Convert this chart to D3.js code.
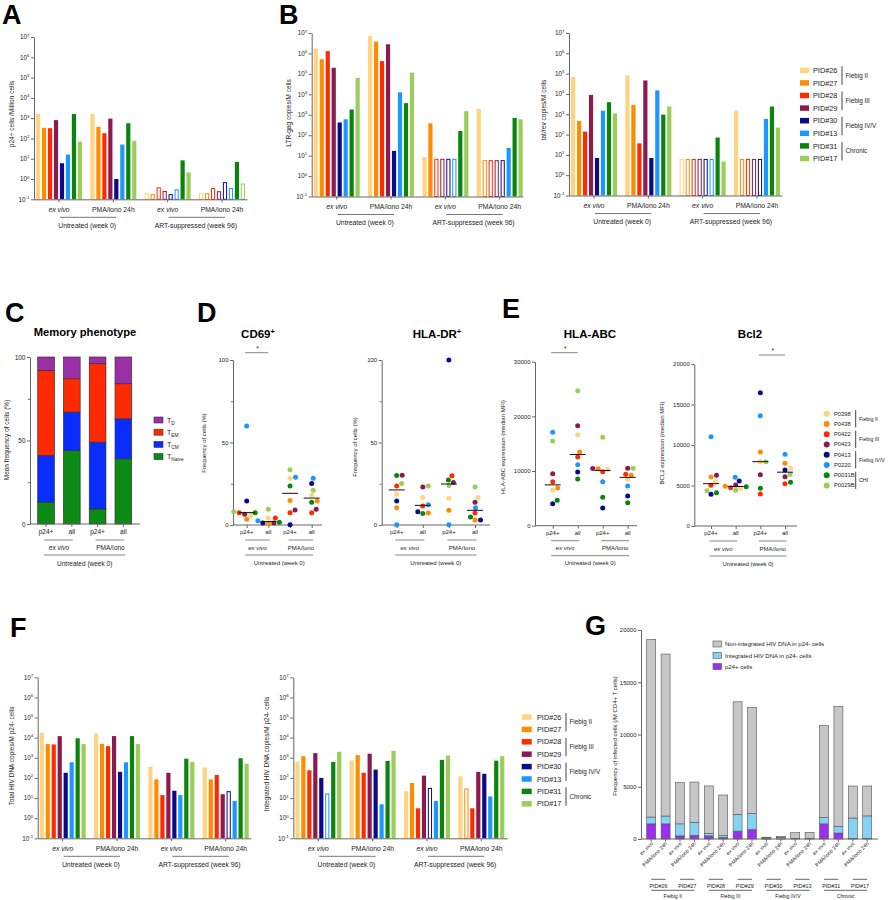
<!DOCTYPE html>
<html><head><meta charset="utf-8">
<script src="https://cdn.jsdelivr.net/npm/d3@7"></script>
<style>
body{margin:0;background:#fff;}
svg text{font-family:"Liberation Sans",Arial,Helvetica,sans-serif;fill:#222;}
</style></head><body>
<svg id="fig" width="890" height="900"></svg>
<script>
// ================= DATA =================
const patients = ["PID#26","PID#27","PID#28","PID#29","PID#30","PID#13","PID#31","PID#17"];
const patientColors = ["#ffd37f","#ff8c00","#ff2a00","#8b1a4f","#0b0b8a","#1e96ff","#0a840a","#9acd5a"];
const stageNames = ["Fiebig II","Fiebig III","Fiebig IV/V","Chronic"];
const conditionLabels = ["ex vivo","PMA/iono 24h","ex vivo","PMA/iono 24h"];
const cohortLabels = ["Untreated (week 0)","ART-suppressed (week 96)"];
const logTickValues = [1e-1,1e0,1e1,1e2,1e3,1e4,1e5,1e6,1e7];

// A: p24+ cells / Million cells  (groups x patients)
const p24Values = [
  [1600, 330, 320, 800, 6, 16, 1600, 70],
  [1600, 370, 180, 950, 1.0, 50, 560, 77],
  [0.2, 0.18, 0.39, 0.26, 0.18, 0.31, 8.3, 2.1],
  [0.2, 0.2, 0.36, 0.25, 0.7, 0.36, 7, 0.6]
];
const p24Open = [
  [0,0,0,0,0,0,0,0],[0,0,0,0,0,0,0,0],[1,1,1,1,1,1,0,0],[1,1,1,1,1,1,0,1]
];
// B: LTR-gag copies/M cells
const ltrValues = [
  [1.7e6, 5.2e5, 1.3e6, 2.0e5, 420, 600, 1800, 6.3e4],
  [7.0e6, 3.8e6, 4.2e5, 2.8e6, 17, 1.25e4, 3.7e3, 1.15e5],
  [8.5, 380, 7, 7, 7, 7, 160, 1500],
  [1900, 6, 6, 6, 6, 24, 700, 600]
];
const ltrOpen = [
  [0,0,0,0,0,0,0,0],[0,0,0,0,0,0,0,0],[0,0,1,1,1,1,0,0],[0,1,1,1,1,0,0,0]
];
// B: tat/rev copies/M cells
const tatValues = [
  [7e4, 470, 140, 9000, 7, 1500, 3900, 1100],
  [8.3e4, 2900, 37, 4.6e4, 7, 1.5e4, 960, 2400],
  [6.3, 6.3, 6.3, 6.3, 6.3, 6.3, 71, 4.7],
  [1500, 6.3, 6.3, 6.3, 6.3, 590, 2400, 220]
];
const tatOpen = [
  [0,0,0,0,0,0,0,0],[0,0,0,0,0,0,0,0],[1,1,1,1,1,1,0,0],[0,1,1,1,1,0,0,0]
];
// F: Total HIV DNA copies/M p24- cells
const totalDnaValues = [
  [1.7e4, 4800, 4600, 1.2e4, 180, 600, 9300, 4800],
  [1.6e4, 5000, 3800, 1.2e4, 200, 600, 1.2e4, 4800],
  [360, 85, 14, 180, 23, 14, 900, 630],
  [330, 85, 140, 15.5, 22, 7.2, 950, 510]
];
const totalDnaOpen = [
  [0,0,0,0,0,0,0,0],[0,0,0,0,0,0,0,0],[0,0,0,0,0,0,0,0],[0,0,0,0,1,0,0,0]
];
// F: Integrated HIV DNA copies/M p24- cells
const intDnaValues = [
  [660, 1200, 240, 1700, 100, 17, 620, 2000],
  [740, 1350, 180, 1600, 260, 4.9, 700, 2200],
  [22, 56, 3.1, 130, 32, 7.1, 790, 1300],
  [120, 30, 3.1, 200, 160, 12, 720, 1200]
];
const intDnaOpen = [
  [0,0,0,0,0,1,0,0],[0,0,0,0,0,0,0,0],[0,0,0,0,1,0,0,0],[0,1,0,0,0,0,0,0]
];

// C: Memory phenotype (mean %)
const memCategories = ["p24+","all","p24+","all"];
const memGroups = ["ex vivo","PMA/Iono"];
const memNaive = [13, 44, 9, 39];
const memCM = [28, 23, 40, 24];
const memEM = [51, 20, 47, 21];
const memD = [8, 13, 4, 16];
const memLegend = [["D","d"],["EM","em"],["CM","cm"],["Naive","naive"]];

// D/E: dot plots (columns: p24+ ex vivo, all ex vivo, p24+ PMA, all PMA; order of donors below)
const donors = ["P0398","P0438","P0422","P0423","P0413","P0220","P0031B","P0029B"];
const donorStages = ["Fiebig II","Fiebig III","Fiebig IV/V","CHI"];
const cd69 = [
  [5.7, 3.5, 7.5, 6.5, 14.6, 60, 7.5, 8],
  [4.3, 1.0, 4.3, 1.2, 1.2, 2.6, 1.6, 9.5],
  [28.3, 14.8, 7.5, 9.1, 0.2, 28.9, 23.6, 33.5],
  [18, 14.6, 7.5, 9.6, 25.2, 28.3, 13.8, 21.1]
];
const hladr = [
  [18.8, 10.5, 23.7, 30.2, 14.6, 0.2, 30, 25.1],
  [16.6, 7.3, 11.5, 23, 8.1, 12.3, 6.9, 23.7],
  [16.2, 8.9, 29.8, 25.7, 100, 0.2, 27.3, 24],
  [16.6, 3, 7.3, 13.8, 3, 10.5, 4.9, 23]
];
const hlaabc = [
  [6525, 6890, 8050, 9513, 4025, 17075, 4634, 15490],
  [16648, 13476, 12561, 18294, 9818, 11159, 8537, 24700],
  [10300, 10400, 9879, 10450, 3232, 8050, 5183, 16160],
  [8476, 9208, 9391, 10488, 5427, 7257, 4207, 10488]
];
const bcl2 = [
  [5432, 6049, 5020, 6255, 3909, 11030, 4115, 4362],
  [4650, 4897, 4732, 5061, 5555, 6008, 4856, 4403],
  [7942, 9135, 3950, 6337, 16460, 13620, 4650, 7942],
  [7119, 7736, 5226, 6090, 6913, 8847, 5391, 6378]
];

// G: Frequency of infected cells (/M CD4+ T cells)
const gPatients = ["PID#26","PID#27","PID#28","PID#29","PID#30","PID#13","PID#31","PID#17"];
const gConditions = ["ex vivo","PMA/iono 24h"];
const gP24 = [1450, 1450, 300, 350, 300, 150, 750, 900, 10, 5, 0, 0, 1450, 570, 60, 60];
const gIntegrated = [650, 750, 1150, 1250, 250, 170, 1600, 1550, 90, 160, 60, 60, 600, 650, 1950, 2150];
const gNonIntegrated = [17000, 15500, 3950, 3850, 4530, 3890, 10780, 10150, 70, 70, 550, 580, 8800, 11480, 3060, 2860];
const gLegend = ["Non-integrated HIV DNA in p24- cells","Integrated HIV DNA in p24- cells","p24+ cells"];

// ================= DRAWING =================
const svg = d3.select("#fig");
svg.append("rect").attr("width",890).attr("height",900).attr("fill","#fff");
const AX = "#666";

function label(g, x, y, s, size, o = {}) {
  const t = g.append("text").attr("x", x).attr("y", y).attr("font-size", size)
    .attr("text-anchor", o.anchor || "middle").text(s);
  if (o.italic) t.attr("font-style", "italic");
  if (o.bold) t.attr("font-weight", "bold");
  if (o.fill) t.style("fill", o.fill);
  return t;
}
function vlabel(g, x, y, s, size) {
  g.append("text").attr("transform", `translate(${x},${y}) rotate(-90)`)
    .attr("text-anchor", "middle").attr("dy", "0.35em").attr("font-size", size).text(s);
}
function hline(g, x1, x2, y, col = "#777", w = 1) {
  g.append("line").attr("x1", x1).attr("x2", x2).attr("y1", y).attr("y2", y).attr("stroke", col).attr("stroke-width", w);
}
function styleAxis(a) {
  a.attr("font-size", null).attr("font-family", null);
  a.select(".domain").attr("stroke", AX);
  a.selectAll(".tick line").attr("stroke", AX);
  a.selectAll(".tick text").style("fill", "#222");
}
function panelLetter(x, y, s) { label(svg, x, y, s, 27, {anchor: "start", bold: true, fill: "#000"}); }

// ---------- log bar chart ----------
function logBarChart(c) {
  const g = svg.append("g");
  const y = d3.scaleLog().domain([0.1, 1e7]).range([c.yBot, c.yTop]);
  const xg = d3.scaleBand().domain(d3.range(4)).range([c.x0 + 2, c.x0 + 211]).paddingInner(0.153);
  const xp = d3.scaleBand().domain(d3.range(8)).range([0, xg.bandwidth()]).paddingInner(0.3);
  c.values.forEach((grp, gi) => grp.forEach((v, pi) => {
    const x = xg(gi) + xp(pi), w = xp.bandwidth(), top = y(v);
    const r = g.append("rect");
    if (c.open[gi][pi]) {
      r.attr("x", x + 0.5).attr("y", top + 0.5).attr("width", w - 1).attr("height", Math.max(0, c.yBot - top - 0.5))
        .attr("fill", "#fff").attr("stroke", patientColors[pi]).attr("stroke-width", 1);
    } else {
      r.attr("x", x).attr("y", top).attr("width", w).attr("height", c.yBot - top).attr("fill", patientColors[pi]);
    }
  }));
  const ay = g.append("g").attr("transform", `translate(${c.x0},0)`)
    .call(d3.axisLeft(y).tickValues(logTickValues).tickSize(3).tickSizeOuter(0).tickFormat(""));
  styleAxis(ay);
  logTickValues.forEach(t => {
    const e = Math.round(Math.log10(t));
    const tx = g.append("text").attr("x", c.x0 - 4.5).attr("y", y(t) + 2.3).attr("text-anchor", "end").attr("font-size", 6.3);
    tx.append("tspan").text("10");
    tx.append("tspan").attr("dy", -2.8).attr("font-size", 4.4).text(e);
  });
  const xl = d3.scaleLinear().domain([0, 1]).range([c.x0, c.x0 + c.len]);
  const ax = g.append("g").attr("transform", `translate(0,${c.yBot})`).call(d3.axisBottom(xl).tickValues([]).tickSizeOuter(0));
  styleAxis(ax);
  const axt = g.append("g").attr("transform", `translate(0,${c.yBot})`).call(d3.axisBottom(xg).tickSize(3).tickSizeOuter(0).tickFormat(""));
  axt.select(".domain").remove();
  axt.selectAll(".tick line").attr("stroke", AX);
  const cen = gi => xg(gi) + xg.bandwidth() / 2;
  d3.range(4).forEach(gi => label(g, cen(gi), c.yBot + 12.5, conditionLabels[gi], 6.8, {italic: gi % 2 === 0}));
  [0, 1].forEach(k => {
    const c1 = cen(2 * k), c2 = cen(2 * k + 1);
    hline(g, c1 + 1, c2 + 3, c.yBot + 18);
    label(g, (c1 + c2) / 2 + 1, c.yBot + 28.5, cohortLabels[k], 6.8);
  });
  vlabel(g, c.ylx, c.yly, c.ylabel, 6.5);
}

function pidLegend(x, y0, step, sw, sh, tx, bx, font, sfont) {
  const g = svg.append("g");
  patients.forEach((p, i) => {
    g.append("rect").attr("x", x).attr("y", y0 + i * step - sh / 2).attr("width", sw).attr("height", sh).attr("fill", patientColors[i]);
    label(g, tx, y0 + i * step + font * 0.36, p, font, {anchor: "start"});
  });
  stageNames.forEach((s, k) => {
    const ya = y0 + 2 * k * step - 4, yb = y0 + (2 * k + 1) * step + 2;
    g.append("line").attr("x1", bx).attr("x2", bx).attr("y1", ya).attr("y2", yb).attr("stroke", "#444");
    label(g, bx + 3.5, (ya + yb) / 2 + sfont * 0.36, s, sfont, {anchor: "start"});
  });
}

// ---------- dot chart ----------
function swarm(vals, ys, r) {
  const idx = vals.map((v, i) => i).sort((a, b) => vals[a] - vals[b]);
  const placed = [], offs = new Array(vals.length), d = 2 * r + 0.3;
  for (const i of idx) {
    const yy = ys(vals[i]);
    let best = null;
    for (let k = 0; k < 60 && best === null; k++) {
      const cands = k === 0 ? [0] : [k * 0.5, -k * 0.5];
      for (const o of cands) {
        if (placed.every(p => Math.hypot(p.x - o, p.y - yy) >= d)) { best = o; break; }
      }
    }
    offs[i] = best; placed.push({x: best, y: yy});
  }
  return offs;
}
function titleSup(g, x, y, t, sup) {
  const tx = g.append("text").attr("x", x).attr("y", y).attr("text-anchor", "middle").attr("font-size", 11.5)
    .attr("font-weight", "bold").style("fill", "#000");
  tx.append("tspan").text(t);
  if (sup) tx.append("tspan").attr("dy", -4.5).attr("font-size", 7.5).text(sup);
}
function dotChart(c) {
  const g = svg.append("g");
  const y = d3.scaleLinear().domain([0, c.max]).range([c.yBot, c.yTop]);
  const xc = d3.scalePoint().domain(d3.range(4)).range([c.c1, c.c4]);
  const ay = g.append("g").attr("transform", `translate(${c.x0},0)`)
    .call(d3.axisLeft(y).tickValues(c.ticks).tickSize(3).tickPadding(1.5).tickSizeOuter(0).tickFormat(d3.format("d")));
  styleAxis(ay);
  ay.selectAll(".tick text").attr("font-size", 6);
  if (c.minor) {
    const am = g.append("g").attr("transform", `translate(${c.x0},0)`)
      .call(d3.axisLeft(y).tickValues(c.minor).tickSize(2).tickFormat(""));
    am.select(".domain").remove(); am.selectAll(".tick line").attr("stroke", AX);
  }
  hline(g, c.x0, c.xEnd, c.yBot, AX);
  const axt = g.append("g").attr("transform", `translate(0,${c.yBot})`).call(d3.axisBottom(xc).tickSize(3).tickSizeOuter(0).tickFormat(""));
  axt.select(".domain").remove(); axt.selectAll(".tick line").attr("stroke", AX);
  d3.range(4).forEach(ci => label(g, xc(ci), c.yBot + 9, memCategories[ci], 6));
  [0, 1].forEach(k => {
    const a = xc(2 * k), b = xc(2 * k + 1);
    hline(g, a - 1.5, b + 1.5, c.yBot + 15, "#888");
    label(g, (a + b) / 2, c.yBot + 24.5, memGroups[k], 6, {italic: k === 0});
  });
  hline(g, xc(0) - 1.5, xc(3) + 1.5, c.yBot + 30, "#888");
  label(g, (xc(0) + xc(3)) / 2, c.yBot + 39.5, "Untreated (week 0)", 6);
  const r = 2.5;
  c.data.forEach((col, ci) => {
    const offs = swarm(col, y, r);
    col.forEach((v, pi) => g.append("circle").attr("cx", xc(ci) + offs[pi]).attr("cy", y(v)).attr("r", r).attr("fill", patientColors[pi]));
    const m = d3.median(col);
    hline(g, xc(ci) - 8, xc(ci) + 8, y(m), "#111", 1);
  });
  titleSup(g, c.tx, 338, c.title, c.sup);
  vlabel(g, c.ylx, c.yly, c.ylabel, 6);
  if (c.sig) {
    const a = xc(c.sig[0]), b = xc(c.sig[1]);
    hline(g, a - 1.5, b, c.sigY, "#888");
    label(g, (a + b) / 2, c.sigY - 2, "*", 6.5);
  }
}

// ================= PANELS =================
panelLetter(2, 24, "A");
panelLetter(279, 24, "B");
panelLetter(5, 322, "C");
panelLetter(197, 322, "D");
panelLetter(502, 318, "E");
panelLetter(10, 637, "F");
panelLetter(585, 635, "G");

logBarChart({values: p24Values, open: p24Open, x0: 34, len: 213, yTop: 37, yBot: 199.3,
  ylabel: "p24+ cells /Million cells", ylx: 11.5, yly: 114});
logBarChart({values: ltrValues, open: ltrOpen, x0: 311.7, len: 211, yTop: 33, yBot: 196.5,
  ylabel: "LTR-gag copies/M cells", ylx: 288.5, yly: 113});
logBarChart({values: tatValues, open: tatOpen, x0: 569, len: 213, yTop: 33, yBot: 195.5,
  ylabel: "tat/rev copies/M cells", ylx: 543.5, yly: 110});
pidLegend(800, 70.3, 12.6, 9, 5.5, 813, 842, 7.3, 6.3);

logBarChart({values: totalDnaValues, open: totalDnaOpen, x0: 37.7, len: 213, yTop: 677.3, yBot: 838.3,
  ylabel: "Total HIV DNA copies/M p24- cells", ylx: 12, yly: 756});
logBarChart({values: intDnaValues, open: intDnaOpen, x0: 293.3, len: 214, yTop: 677.3, yBot: 838.3,
  ylabel: "Integrated HIV DNA copies/M p24-  cells", ylx: 267, yly: 754});
pidLegend(521.7, 717, 12.4, 10, 5.5, 537, 566, 7.3, 6.3);

// ---- C ----
(function () {
  const g = svg.append("g");
  const x0 = 30, yb = 524;
  const y = d3.scaleLinear().domain([0, 100]).range([yb, 357]);
  const x = d3.scaleBand().domain(d3.range(4)).range([37.7, 131.7]).paddingInner(0.353);
  const rows = memCategories.map((c, i) => ({naive: memNaive[i], cm: memCM[i], em: memEM[i], d: memD[i]}));
  const series = d3.stack().keys(["naive", "cm", "em", "d"])(rows);
  const col = {naive: "#0b8a14", cm: "#0a2dff", em: "#ff2a00", d: "#9b30a6"};
  series.forEach(s => s.forEach((d, i) => {
    g.append("rect").attr("x", x(i)).attr("y", y(d[1])).attr("width", x.bandwidth()).attr("height", y(d[0]) - y(d[1]))
      .attr("fill", col[s.key]).attr("stroke", "#333").attr("stroke-width", 0.7);
  }));
  const ay = g.append("g").attr("transform", `translate(${x0},0)`)
    .call(d3.axisLeft(y).tickValues([0, 50, 100]).tickSize(3).tickPadding(1.5).tickSizeOuter(0));
  styleAxis(ay); ay.selectAll(".tick text").attr("font-size", 6.5);
  const am = g.append("g").attr("transform", `translate(${x0},0)`).call(d3.axisLeft(y).tickValues([25, 75]).tickSize(2).tickFormat(""));
  am.select(".domain").remove(); am.selectAll(".tick line").attr("stroke", AX);
  hline(g, x0, 140, yb, AX);
  const cen = i => x(i) + x.bandwidth() / 2;
  const axt = g.append("g").attr("transform", `translate(0,${yb})`).call(d3.axisBottom(x).tickSize(3).tickSizeOuter(0).tickFormat(""));
  axt.select(".domain").remove(); axt.selectAll(".tick line").attr("stroke", AX);
  d3.range(4).forEach(i => label(g, cen(i), yb + 9.5, memCategories[i], 6.5));
  [0, 1].forEach(k => {
    const a = cen(2 * k), b = cen(2 * k + 1);
    hline(g, a - 2, b + 1, yb + 16, "#888");
    label(g, (a + b) / 2, yb + 25.5, memGroups[k], 6.5, {italic: k === 0});
  });
  hline(g, cen(0) - 2, cen(3) + 2, yb + 31, "#888");
  label(g, (cen(0) + cen(3)) / 2, yb + 41.5, "Untreated (week 0)", 6.5);
  vlabel(g, 7, 440, "Mean frequency of cells (%)", 6.5);
  label(g, 85, 336, "Memory phenotype", 11.2, {bold: true, fill: "#000"});
  memLegend.forEach(([sub, key], i) => {
    const yy = 420 + i * 12.2;
    g.append("rect").attr("x", 154).attr("y", yy - 3).attr("width", 9).attr("height", 6).attr("fill", col[key]).attr("stroke", "#333").attr("stroke-width", 0.6);
    const t = g.append("text").attr("x", 167).attr("y", yy + 2.5).attr("font-size", 7);
    t.append("tspan").text("T");
    t.append("tspan").attr("dy", 2).attr("font-size", 4.8).text(sub);
  });
})();

// ---- D & E ----
dotChart({data: cd69, x0: 233, xEnd: 322, c1: 246.7, c4: 311.7, max: 100, yTop: 360, yBot: 525,
  ticks: [0, 50, 100], minor: [25, 75], ylabel: "Frequency of cells (%)", ylx: 204, yly: 443,
  title: "CD69", sup: "+", tx: 258, sig: [0, 1], sigY: 352.7});
dotChart({data: hladr, x0: 381.7, xEnd: 490, c1: 396.7, c4: 475, max: 100, yTop: 360, yBot: 525,
  ticks: [0, 50, 100], minor: [25, 75], ylabel: "Frequency of cells (%)", ylx: 355, yly: 447,
  title: "HLA-DR", sup: "+", tx: 437});
dotChart({data: hlaabc, x0: 535, xEnd: 637, c1: 552.7, c4: 627.7, max: 30000, yTop: 361.7, yBot: 525.7,
  ticks: [0, 10000, 20000, 30000], ylabel: "HLA-ABC expression (median MFI)", ylx: 503, yly: 447,
  title: "HLA-ABC", tx: 590, sig: [0, 1], sigY: 352.7});
dotChart({data: bcl2, x0: 694.3, xEnd: 797, c1: 711, c4: 785, max: 20000, yTop: 364, yBot: 526,
  ticks: [0, 5000, 10000, 15000, 20000], ylabel: "BCL2 expression (median MFI)", ylx: 662, yly: 443,
  title: "Bcl2", tx: 750, sig: [2, 3], sigY: 355});
(function () {
  const g = svg.append("g");
  const y0 = 413.7, step = 10.25;
  donors.forEach((d, i) => {
    g.append("circle").attr("cx", 826.7).attr("cy", y0 + i * step).attr("r", 3).attr("fill", patientColors[i]);
    label(g, 834, y0 + i * step + 2, d, 5.8, {anchor: "start"});
  });
  donorStages.forEach((s, k) => {
    const ya = y0 + 2 * k * step - 3.5, yb = y0 + (2 * k + 1) * step + 3.5;
    g.append("line").attr("x1", 855.7).attr("x2", 855.7).attr("y1", ya).attr("y2", yb).attr("stroke", "#444");
    label(g, 859, (ya + yb) / 2 + 2, s, 5.3, {anchor: "start"});
  });
})();

// ---- G ----
(function () {
  const g = svg.append("g");
  const x0 = 641, yb = 839;
  const y = d3.scaleLinear().domain([0, 20000]).range([yb, 630]);
  const x = d3.scaleBand().domain(d3.range(16)).range([646.7, 871.7]).paddingInner(0.375);
  const rows = gP24.map((v, i) => ({p24: v, integ: gIntegrated[i], nonint: gNonIntegrated[i]}));
  const series = d3.stack().keys(["p24", "integ", "nonint"])(rows);
  const col = {p24: "#9a2ff0", integ: "#86d2f3", nonint: "#c6c6c6"};
  series.forEach(s => s.forEach((d, i) => {
    const h = y(d[0]) - y(d[1]);
    if (h <= 0) return;
    g.append("rect").attr("x", x(i)).attr("y", y(d[1])).attr("width", x.bandwidth()).attr("height", h)
      .attr("fill", col[s.key]).attr("stroke", "#555").attr("stroke-width", 0.6);
  }));
  const ay = g.append("g").attr("transform", `translate(${x0},0)`)
    .call(d3.axisLeft(y).tickValues([0, 5000, 10000, 15000, 20000]).tickSize(3).tickPadding(1.5).tickSizeOuter(0).tickFormat(d3.format("d")));
  styleAxis(ay); ay.selectAll(".tick text").attr("font-size", 6);
  hline(g, x0, 878, yb, AX);
  const cen = i => x(i) + x.bandwidth() / 2;
  const axt = g.append("g").attr("transform", `translate(0,${yb})`).call(d3.axisBottom(x).tickSize(2.5).tickSizeOuter(0).tickFormat(""));
  axt.select(".domain").remove(); axt.selectAll(".tick line").attr("stroke", AX);
  d3.range(16).forEach(i => {
    g.append("text").attr("transform", `translate(${cen(i) + 2},${yb + 5}) rotate(-45)`).attr("text-anchor", "end")
      .attr("font-size", 5.2).text(gConditions[i % 2]);
  });
  gPatients.forEach((p, k) => {
    const a = cen(2 * k), b = cen(2 * k + 1);
    hline(g, a, b, 879.3, "#666");
    label(g, (a + b) / 2, 887.5, p, 5.4);
  });
  stageNames.forEach((s, k) => {
    const a = cen(4 * k), b = cen(4 * k + 3);
    hline(g, a, b, 890.3, "#666");
    label(g, (a + b) / 2, 897.5, s, 5.2);
  });
  vlabel(g, 615, 736, "Frequency of infected cells (/M CD4+ T cells)", 6);
  const lk = ["nonint", "integ", "p24"];
  gLegend.forEach((t, i) => {
    const yy = 644 + i * 11.3;
    g.append("rect").attr("x", 713).attr("y", yy - 3).attr("width", 8.5).attr("height", 6).attr("fill", col[lk[i]]).attr("stroke", "#555").attr("stroke-width", 0.6);
    label(g, 725, yy + 2.2, t, 6, {anchor: "start"});
  });
})();
</script>
</body></html>
